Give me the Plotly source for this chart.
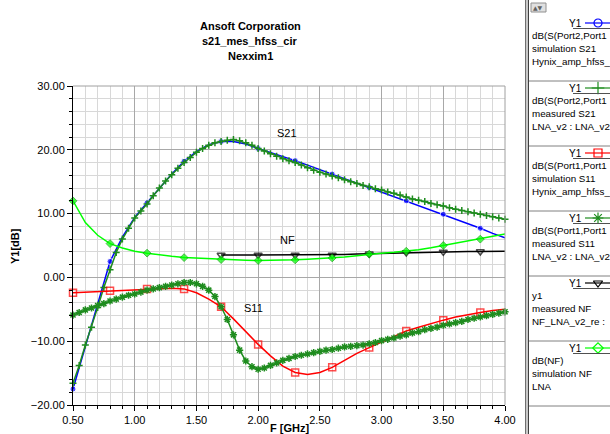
import plotly.graph_objects as go

W, H = 610, 434

# ---------------- data ----------------
freq_sim = [0.5, 0.6, 0.7, 0.8, 0.9, 1.0, 1.1, 1.2, 1.3, 1.4, 1.5, 1.6, 1.7, 1.8, 1.9, 2.0, 2.1, 2.2,
            2.3, 2.4, 2.5, 2.6, 2.7, 2.8, 2.9, 3.0, 3.1, 3.2, 3.3, 3.4, 3.5, 3.6, 3.7, 3.8, 3.9, 4.0]
s21_sim = [-17.5, -10.8, -4.2, 2.5, 6.3, 9.4, 11.7, 14.0, 16.2, 18.2, 19.7, 20.8, 21.3, 21.3, 20.9, 20.2,
           19.6, 19.0, 18.3, 17.6, 16.9, 16.2, 15.5, 14.8, 14.1, 13.4, 12.7, 12.0, 11.3, 10.6, 9.9, 9.2,
           8.4, 7.7, 6.9, 6.2]
s11_sim = [-2.4, -2.3, -2.2, -2.1, -2.0, -1.9, -1.8, -1.7, -1.7, -1.8, -2.4, -3.4, -4.6, -6.5, -8.5, -10.5,
           -12.3, -13.9, -14.9, -15.2, -14.9, -14.1, -13.0, -11.9, -11.0, -10.1, -9.2, -8.4, -7.8, -7.2,
           -6.7, -6.2, -5.8, -5.5, -5.2, -5.0]
nf_sim = [12.0, 8.6, 6.6, 5.3, 4.6, 4.1, 3.8, 3.5, 3.3, 3.1, 3.0, 2.9, 2.8, 2.75, 2.7, 2.65, 2.65, 2.7,
          2.75, 2.85, 2.95, 3.05, 3.2, 3.4, 3.65, 3.8, 3.95, 4.1, 4.35, 4.65, 5.0, 5.3, 5.65, 6.0, 6.4, 6.8]

freq_meas = [0.50, 0.55, 0.60, 0.65, 0.70, 0.75, 0.80, 0.85, 0.90, 0.95, 1.00, 1.05, 1.10, 1.15, 1.20,
             1.25, 1.30, 1.35, 1.40, 1.45, 1.50, 1.55, 1.60, 1.65, 1.70, 1.75, 1.80, 1.85, 1.90, 1.95,
             2.00, 2.05, 2.10, 2.15, 2.20, 2.25, 2.30, 2.35, 2.40, 2.45, 2.50, 2.55, 2.60, 2.65, 2.70,
             2.75, 2.80, 2.85, 2.90, 2.95, 3.00, 3.05, 3.10, 3.15, 3.20, 3.25, 3.30, 3.35, 3.40, 3.45,
             3.50, 3.55, 3.60, 3.65, 3.70, 3.75, 3.80, 3.85, 3.90, 3.95, 4.00]
s21_meas = [-16.6, -13.8, -10.6, -7.8, -4.7, -1.6, 1.2, 3.9, 6.0, 7.7, 9.3, 10.4, 11.5, 12.8, 14.0,
            15.1, 16.1, 17.1, 18.0, 18.8, 19.6, 20.2, 20.7, 21.1, 21.3, 21.5, 21.6, 21.4, 21.1, 20.7,
            20.2, 19.8, 19.4, 19.0, 18.6, 18.3, 18.0, 17.6, 17.2, 16.8, 16.5, 16.2, 15.9, 15.6, 15.3,
            15.0, 14.7, 14.4, 14.2, 13.9, 13.7, 13.4, 13.2, 12.9, 12.6, 12.3, 12.1, 11.9, 11.6, 11.4,
            11.2, 10.9, 10.7, 10.5, 10.3, 10.1, 9.9, 9.7, 9.5, 9.3, 9.1]
s11_meas = [-5.9, -5.5, -5.1, -4.8, -4.4, -4.1, -3.7, -3.4, -3.1, -2.8, -2.6, -2.3, -2.0, -1.8, -1.6,
            -1.4, -1.2, -1.0, -0.8, -0.8, -1.0, -1.4, -2.0, -3.0, -4.6, -6.6, -9.0, -11.4, -13.1, -14.0,
            -14.4, -14.2, -13.8, -13.4, -13.0, -12.7, -12.4, -12.2, -12.0, -11.8, -11.6, -11.4, -11.3,
            -11.1, -10.9, -10.8, -10.7, -10.6, -10.4, -10.2, -9.9, -9.7, -9.5, -9.2, -9.0, -8.7, -8.5,
            -8.2, -8.0, -7.8, -7.5, -7.3, -7.1, -6.9, -6.6, -6.4, -6.2, -6.0, -5.8, -5.6, -5.4]

freq_nf_meas = [1.7, 1.8, 1.9, 2.0, 2.1, 2.2, 2.3, 2.4, 2.5, 2.6, 2.7, 2.8, 2.9, 3.0, 3.1, 3.2, 3.3, 3.4,
                3.5, 3.6, 3.7, 3.8, 3.9, 4.0]
nf_meas = [3.5, 3.5, 3.5, 3.5, 3.5, 3.5, 3.5, 3.5, 3.5, 3.5, 3.6, 3.65, 3.7, 3.75, 3.85, 3.9, 3.95, 4.0,
           4.0, 4.0, 4.05, 4.05, 4.1, 4.1]

x_ticks = [0.5, 1.0, 1.5, 2.0, 2.5, 3.0, 3.5, 4.0]
y_ticks = [-20, -10, 0, 10, 20, 30]

title_lines = ["Ansoft Corporation", "s21_mes_hfss_cir", "Nexxim1"]
curve_labels = ["S21", "NF", "S11"]
curve_label_x = [2.23, 2.24, 1.96]
curve_label_y = [22.6, 5.8, -4.8]

legend_entries = [
    ("dB(S(Port2,Port1", "simulation S21", "Hynix_amp_hfss_"),
    ("dB(S(Port2,Port1", "measured S21", "LNA_v2 : LNA_v2"),
    ("dB(S(Port1,Port1", "simulation S11", "Hynix_amp_hfss_"),
    ("dB(S(Port1,Port1", "measured S11", "LNA_v2 : LNA_v2"),
    ("y1", "measured NF", "NF_LNA_v2_re :"),
    ("dB(NF)", "simulation NF", "LNA"),
]

# ---------------- styling ----------------
FONT = "Liberation Sans, Arial, sans-serif"
BLUE = "#0000ff"
DKGREEN = "#1e8c1e"
RED = "#ff0000"
BLACK = "#000000"
LTGREEN = "#00ff00"

styles = [
    dict(color=BLUE, symbol="circle", size=6, lw=0),
    dict(color=DKGREEN, symbol="cross-thin", size=5, lw=1.5),
    dict(color=RED, symbol="square-open", size=7, lw=1.5),
    dict(color=DKGREEN, symbol="asterisk", size=6, lw=1.5),
    dict(color=BLACK, symbol="triangle-down-open", size=7, lw=1.5),
    dict(color=LTGREEN, symbol="diamond", size=6, lw=1),
]


def every_third(n, size):
    return [size if i % 3 == 0 else 0 for i in range(n)]


fig = go.Figure()

# simulation S21
st = styles[0]
fig.add_trace(go.Scatter(x=freq_sim, y=s21_sim, mode="lines+markers", cliponaxis=False,
                         line=dict(color=st["color"], width=1.5),
                         marker=dict(symbol=st["symbol"], color=st["color"],
                                     size=every_third(len(freq_sim), st["size"]))))
# measured S21
st = styles[1]
fig.add_trace(go.Scatter(x=freq_meas, y=s21_meas, mode="lines+markers", cliponaxis=False,
                         line=dict(color=st["color"], width=1.5),
                         marker=dict(symbol=st["symbol"], size=st["size"],
                                     line=dict(color=st["color"], width=st["lw"]))))
# simulation S11
st = styles[2]
fig.add_trace(go.Scatter(x=freq_sim, y=s11_sim, mode="lines+markers", cliponaxis=False,
                         line=dict(color=st["color"], width=1.5),
                         marker=dict(symbol=st["symbol"], color=st["color"],
                                     size=every_third(len(freq_sim), st["size"]),
                                     line=dict(color=st["color"], width=st["lw"]))))
# measured S11
st = styles[3]
fig.add_trace(go.Scatter(x=freq_meas, y=s11_meas, mode="lines+markers", cliponaxis=False,
                         line=dict(color=st["color"], width=1.5),
                         marker=dict(symbol=st["symbol"], size=st["size"],
                                     line=dict(color=st["color"], width=st["lw"]))))
# measured NF
st = styles[4]
fig.add_trace(go.Scatter(x=freq_nf_meas, y=nf_meas, mode="lines+markers", cliponaxis=False,
                         line=dict(color=st["color"], width=1.5),
                         marker=dict(symbol=st["symbol"], color=st["color"],
                                     size=every_third(len(freq_nf_meas), st["size"]),
                                     line=dict(color=st["color"], width=st["lw"]))))
# simulation NF
st = styles[5]
fig.add_trace(go.Scatter(x=freq_sim, y=nf_sim, mode="lines+markers", cliponaxis=False,
                         line=dict(color=st["color"], width=1.5),
                         marker=dict(symbol=st["symbol"], color=st["color"],
                                     size=every_third(len(freq_sim), st["size"]),
                                     line=dict(color="#00a000", width=st["lw"]))))

# ---------------- legend panel (pixel coordinates on a hidden axis) ----------------
LX0 = 527
for i, (l1, l2, l3) in enumerate(legend_entries):
    st = styles[i]
    yc = 23 + 65 * i
    fig.add_trace(go.Scatter(x=[585, 610], y=[yc, yc], mode="lines", xaxis="x2", yaxis="y2",
                             line=dict(color=st["color"], width=1.2), hoverinfo="skip"))
    mk = dict(symbol=st["symbol"], size=8, color=st["color"],
              line=dict(color=st["color"], width=1.2))
    if st["symbol"] == "circle":
        mk["symbol"] = "circle-open"
    if st["symbol"] == "diamond":
        mk["symbol"] = "diamond-open"
    if st["symbol"] in ("cross-thin", "asterisk"):
        mk["size"] = 9
    fig.add_trace(go.Scatter(x=[598], y=[yc], mode="markers", xaxis="x2", yaxis="y2",
                             marker=mk, hoverinfo="skip", cliponaxis=False))

annotations = []
for i, (l1, l2, l3) in enumerate(legend_entries):
    yc = 23 + 65 * i
    annotations.append(dict(x=584, y=yc, xref="x2", yref="y2", text="Y1", showarrow=False,
                            xanchor="right", yanchor="middle",
                            font=dict(family=FONT, size=10, color="black")))
    for k, t in enumerate((l1, l2, l3)):
        annotations.append(dict(x=530, y=yc + 12 + 13 * k, xref="x2", yref="y2", text=t,
                                showarrow=False, xanchor="left", yanchor="middle",
                                font=dict(family=FONT, size=9.8, color="black")))

# title
for k, t in enumerate(title_lines):
    annotations.append(dict(x=250 / W, y=1 - (26 + 15 * k) / H, xref="paper", yref="paper",
                            text="<b>%s</b>" % t, showarrow=False, xanchor="center",
                            yanchor="middle", font=dict(family=FONT, size=11, color="black")))
# axis titles
annotations.append(dict(x=15 / W, y=1 - 246 / H, xref="paper", yref="paper", text="<b>Y1[dB]</b>",
                        showarrow=False, textangle=-90, xanchor="center", yanchor="middle",
                        font=dict(family=FONT, size=11, color="black")))
annotations.append(dict(x=289 / W, y=1 - 428 / H, xref="paper", yref="paper", text="<b>F [GHz]</b>",
                        showarrow=False, xanchor="center", yanchor="middle",
                        font=dict(family=FONT, size=11, color="black")))
# curve labels
for t, cx, cy in zip(curve_labels, curve_label_x, curve_label_y):
    annotations.append(dict(x=cx, y=cy, xref="x", yref="y", text=t, showarrow=False,
                            xanchor="center", yanchor="middle",
                            font=dict(family=FONT, size=11, color="black")))
# scroll arrows
annotations.append(dict(x=538, y=7, xref="x2", yref="y2", text="▲▼", showarrow=False,
                        xanchor="center", yanchor="middle",
                        font=dict(family="DejaVu Sans", size=6, color="#606060")))

shapes = []
# plot border top/right (gray)
shapes.append(dict(type="line", xref="x domain", yref="y domain", x0=0, x1=1, y0=1, y1=1,
                   line=dict(color="#a0a0a0", width=1)))
shapes.append(dict(type="line", xref="x domain", yref="y domain", x0=1, x1=1, y0=0, y1=1,
                   line=dict(color="#a0a0a0", width=1)))
# legend panel frame
shapes.append(dict(type="rect", xref="x2", yref="y2", x0=525, x1=529, y0=0, y1=H,
                   fillcolor="#c8c8c8", line=dict(width=0)))
shapes.append(dict(type="line", xref="x2", yref="y2", x0=525.5, x1=525.5, y0=0, y1=H,
                   line=dict(color="#707070", width=1)))
shapes.append(dict(type="line", xref="x2", yref="y2", x0=528.5, x1=528.5, y0=0, y1=H,
                   line=dict(color="#404040", width=1)))
shapes.append(dict(type="rect", xref="x2", yref="y2", x0=531, x1=546, y0=3, y1=12,
                   fillcolor="#e0e0e0", line=dict(color="#909090", width=1)))
for i in range(6):
    ys = 81 + 65 * i
    shapes.append(dict(type="line", xref="x2", yref="y2", x0=529, x1=610, y0=ys, y1=ys,
                       line=dict(color="#808080", width=1)))
    yc = 23 + 65 * i
    shapes.append(dict(type="line", xref="x2", yref="y2", x0=573, x1=610, y0=yc + 5.5, y1=yc + 5.5,
                       line=dict(color="#505050", width=1)))

fig.update_layout(
    width=W, height=H,
    margin=dict(l=0, r=0, t=0, b=0, pad=0),
    paper_bgcolor="white", plot_bgcolor="white",
    showlegend=False,
    font=dict(family=FONT, size=11, color="black"),
    xaxis=dict(domain=[73 / W, 505 / W], range=[0.5, 4.0], tickvals=x_ticks, tickformat=".2f",
               showgrid=True, gridcolor="#a8a8a8", gridwidth=1, zeroline=False,
               showline=True, linecolor="black", linewidth=1,
               ticks="outside", ticklen=5, tickcolor="black",
               tickfont=dict(family=FONT, size=11, color="black"),
               minor=dict(dtick=0.1, tick0=0.5, showgrid=True, gridcolor="#d8d8d8", gridwidth=1,
                          ticks="outside", ticklen=3, tickcolor="black"),
               automargin=False, fixedrange=True),
    yaxis=dict(domain=[(H - 405) / H, (H - 86) / H], range=[-20, 30], tickvals=y_ticks,
               tickformat=".2f",
               showgrid=True, gridcolor="#a8a8a8", gridwidth=1, zeroline=False,
               showline=True, linecolor="black", linewidth=1,
               ticks="outside", ticklen=5, tickcolor="black",
               tickfont=dict(family=FONT, size=11, color="black"),
               minor=dict(dtick=2, tick0=0, showgrid=True, gridcolor="#d8d8d8", gridwidth=1,
                          ticks="outside", ticklen=3, tickcolor="black"),
               automargin=False, fixedrange=True),
    xaxis2=dict(domain=[LX0 / W - 2 / W, 1], range=[LX0 - 2, W], visible=False, fixedrange=True),
    yaxis2=dict(domain=[0, 1], range=[H, 0], visible=False, fixedrange=True, anchor="x2"),
    annotations=annotations,
    shapes=shapes,
)

fig.write_html("out.html", config={"displayModeBar": False})

# remove the browser's default page margin so the figure sits at the window's corner
with open("out.html", "r", encoding="utf-8") as f:
    html = f.read()
html = html.replace("<body>", '<body style="margin:0;padding:0;overflow:hidden">', 1)
html = html.replace("<head>", "<head><style>html,body{margin:0;padding:0;}</style>", 1)
with open("out.html", "w", encoding="utf-8") as f:
    f.write(html)
